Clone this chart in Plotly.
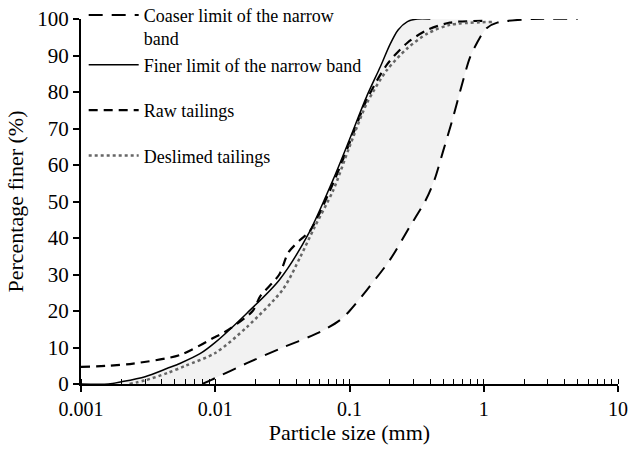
import plotly.graph_objects as go

# Finer limit of the narrow band
finer_x = [0.001, 0.0016, 0.002, 0.003, 0.0044, 0.0055, 0.0077, 0.01, 0.0172, 0.03, 0.05, 0.0755, 0.1, 0.135, 0.17, 0.2, 0.23, 0.27, 0.32, 0.4]
finer_y = [0, 0, 0.6, 2, 4.3, 5.7, 8.3, 11.4, 19.4, 28.5, 41.5, 56, 67, 79, 87, 93, 97, 99.3, 100, 100]

# Coarser limit of the narrow band
coarser_x = [0.008, 0.0092, 0.0172, 0.03, 0.06, 0.085, 0.1, 0.135, 0.2, 0.28, 0.37, 0.43, 0.5, 0.58, 0.7, 0.79, 0.94, 1.05, 1.26, 2.3, 5]
coarser_y = [0, 1, 5.7, 9.6, 14.2, 17.5, 20, 25.8, 34, 43, 50.4, 56, 64, 72, 83, 89.5, 95, 97.5, 99, 100, 100]

# Raw tailings
raw_x = [0.001, 0.0016, 0.00245, 0.0055, 0.01, 0.0115, 0.019, 0.0216, 0.03, 0.035, 0.043, 0.051, 0.0755, 0.1, 0.135, 0.19, 0.27, 0.38, 0.56, 1.0]
raw_y = [4.7, 5.0, 5.6, 8, 12.9, 14, 20, 24, 30, 36, 39.5, 42, 55, 66, 78, 87.5, 93.5, 97, 99, 99.5]

# Deslimed tailings
desl_x = [0.0023, 0.003, 0.0044, 0.006, 0.01, 0.0172, 0.032, 0.043, 0.055, 0.0755, 0.1, 0.135, 0.19, 0.27, 0.38, 0.56, 1.17]
desl_y = [0, 1, 3, 5, 8.5, 15.6, 26, 34.8, 43, 53, 65, 77, 86, 92, 96, 98.4, 99.2]

x_tickvals = [0.001, 0.01, 0.1, 1, 10]
x_ticktext = ["0.001", "0.01", "0.1", "1", "10"]
y_tickvals = [0, 10, 20, 30, 40, 50, 60, 70, 80, 90, 100]

FONT = "Liberation Serif"
SM = 0.8

# band polygon: finer limit forward, coarser limit backward (up to where it reaches ~100)
band_cx = [x for x in coarser_x if x <= 1.3]
band_cy = coarser_y[:len(band_cx)]
band_x = finer_x + band_cx[::-1]
band_y = finer_y + band_cy[::-1]

fig = go.Figure()
fig.add_trace(go.Scatter(x=band_x, y=band_y, mode="lines", fill="toself",
                         fillcolor="#f2f2f2", line=dict(width=0, shape="spline", smoothing=SM),
                         showlegend=False, hoverinfo="skip"))
fig.add_trace(go.Scatter(x=coarser_x, y=coarser_y, mode="lines",
                         name="Coaser limit of the narrow<br>band", legendgroup="a",
                         line=dict(color="black", width=2, dash="14px,9px", shape="spline", smoothing=SM),
                         cliponaxis=False))
fig.add_trace(go.Scatter(x=finer_x, y=finer_y, mode="lines",
                         name="Finer limit of the narrow band", legendgroup="a",
                         line=dict(color="black", width=1.5, shape="spline", smoothing=SM),
                         cliponaxis=False))
fig.add_trace(go.Scatter(x=raw_x, y=raw_y, mode="lines",
                         name="Raw tailings", legendgroup="c",
                         line=dict(color="black", width=2.2, dash="9px,6px", shape="spline", smoothing=SM),
                         cliponaxis=False))
fig.add_trace(go.Scatter(x=desl_x, y=desl_y, mode="lines",
                         name="Deslimed tailings", legendgroup="d",
                         line=dict(color="#666666", width=2.5, dash="dot", shape="spline", smoothing=SM),
                         cliponaxis=False))

fig.update_layout(
    width=631, height=451,
    margin=dict(l=81, r=13, t=19, b=67, autoexpand=False),
    plot_bgcolor="white", paper_bgcolor="white",
    font=dict(family=FONT, color="black", size=20),
    legend=dict(x=0.005, y=1.061, xanchor="left", yanchor="top", bgcolor="rgba(0,0,0,0)",
                font=dict(family=FONT, size=18, color="black"), tracegroupgap=19,
                valign="top", traceorder="grouped", itemwidth=50),
    xaxis=dict(type="log", range=[-3, 1], tickvals=x_tickvals, ticktext=x_ticktext,
               showline=True, linecolor="black", linewidth=2, ticks="outside", ticklen=6,
               tickwidth=1.5, tickcolor="black", showgrid=False, zeroline=False,
               tickfont=dict(family=FONT, size=20),
               minor=dict(ticks="inside", dtick="D1", ticklen=5, tickwidth=1, tickcolor="black", showgrid=False),
               title=dict(text="Particle size (mm)", font=dict(family=FONT, size=22), standoff=6)),
    yaxis=dict(range=[0, 100], tickvals=y_tickvals, showline=True, linecolor="black", linewidth=2,
               ticks="outside", ticklen=6, tickwidth=1.5, tickcolor="black", showgrid=False,
               zeroline=False, tickfont=dict(family=FONT, size=21),
               title=dict(text="Percentage finer (%)", font=dict(family=FONT, size=22), standoff=8)),
)

fig.write_html("out.html")
